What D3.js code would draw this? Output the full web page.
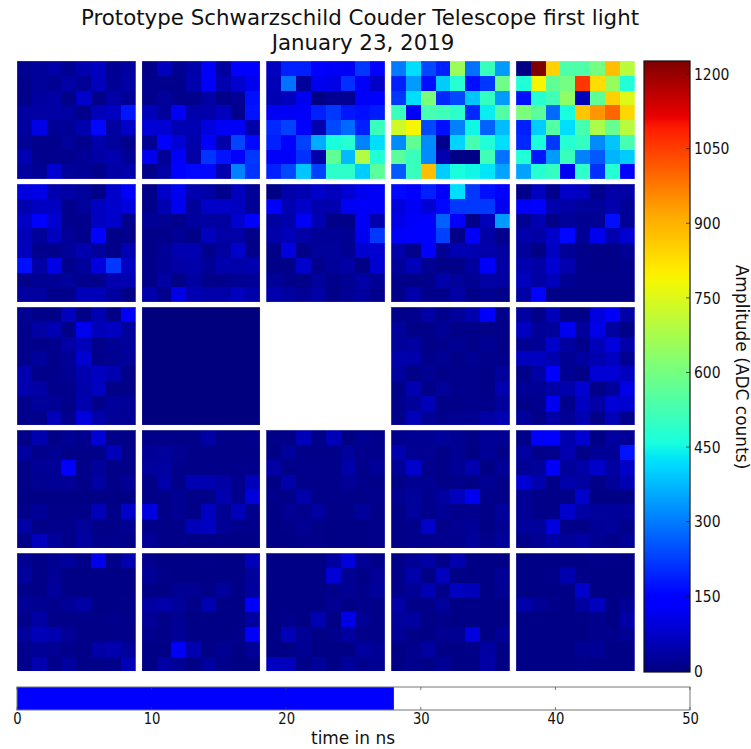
<!DOCTYPE html>
<html><head><meta charset="utf-8">
<style>html,body{margin:0;padding:0;background:#fff}svg{display:block}text{font-family:"DejaVu Sans",sans-serif;fill:#111}</style>
<script src="https://cdn.jsdelivr.net/npm/d3@7"></script></head><body>
<div id="chart"></div>
<script>
const titleLines=["Prototype Schwarzschild Couder Telescope first light","January 23, 2019"];
const colorbarLabel="Amplitude (ADC counts)";
const timeLabel="time in ns";
const colorbarTicks=[0,150,300,450,600,750,900,1050,1200];
const timeTicks=[0,10,20,30,40,50];
const amplitudeMax=1226;
const timeValue=28;
const timeMax=50;
const m00=[[20,30,40,20,50,70,20,35],[15,30,20,40,25,65,25,40],[10,35,40,10,80,10,40,25],[35,40,40,35,15,60,70,180],[35,110,25,25,50,160,35,75],[25,15,15,30,15,45,30,15],[55,15,15,15,25,40,50,25],[35,25,85,30,25,12,40,45]];
const m01=[[10,65,20,45,130,35,150,135],[15,15,15,50,130,50,85,120],[15,30,15,15,40,15,25,170],[60,30,125,45,45,65,15,175],[90,90,55,55,100,125,125,45],[20,145,90,45,130,45,235,160],[115,25,130,40,215,175,150,220],[15,40,140,160,160,50,310,215]];
const m02=[[70,190,190,150,125,125,220,150],[60,290,30,120,110,210,130,75],[55,65,120,5,20,20,130,135],[125,125,130,190,220,180,170,185],[200,230,140,50,240,280,190,510],[190,150,230,360,460,480,310,420],[125,130,210,45,570,380,690,470],[190,240,390,230,490,490,400,560]];
const m03=[[300,420,240,190,660,290,510,340],[190,340,170,400,480,170,220,590],[220,420,610,200,240,390,500,340],[510,130,530,520,490,200,440,550],[730,790,240,170,310,450,270,380],[320,570,320,15,410,530,470,420],[560,510,320,50,5,5,520,290],[260,510,880,400,460,450,430,350]];
const m04=[[5,1226,850,540,540,600,880,700],[470,790,570,600,1060,830,650,470],[170,480,520,640,60,570,850,750],[610,560,280,460,870,940,1000,840],[190,400,550,420,530,680,580,700],[200,460,220,480,500,320,390,530],[470,180,340,510,310,260,370,400],[350,480,500,120,490,210,480,150]];
const m10=[[100,110,50,40,30,10,80,130],[50,70,70,15,30,70,80,100],[75,135,85,15,15,70,80,15],[60,30,65,25,15,155,10,15],[65,15,15,30,50,30,10,55],[170,40,110,15,30,100,220,70],[15,20,25,30,15,15,50,55],[35,35,15,15,60,60,35,10]];
const m11=[[10,80,120,50,40,15,65,25],[10,55,120,30,75,75,70,25],[25,20,15,35,35,35,85,150],[10,15,25,10,65,40,40,10],[10,25,50,55,15,35,80,10],[15,25,40,45,25,50,45,50],[10,40,10,35,15,15,20,25],[45,15,110,55,45,45,65,45]];
const m12=[[5,45,55,80,65,90,120,125],[150,55,80,50,50,125,130,130],[35,45,125,55,10,10,125,50],[45,60,40,25,25,20,120,220],[10,100,10,30,30,20,85,85],[10,10,80,15,30,40,5,85],[30,15,10,30,15,20,40,25],[50,35,25,40,10,25,35,15]];
const m13=[[160,135,190,130,420,220,170,140],[100,125,90,160,220,220,220,120],[110,130,135,270,130,10,60,340],[130,150,135,230,10,130,40,15],[45,15,140,25,55,55,45,35],[30,60,20,10,10,35,130,40],[15,10,10,45,30,20,40,35],[10,45,15,15,40,10,20,10]];
const m14=[[15,70,15,75,70,15,40,40],[130,150,50,40,30,30,50,25],[20,55,10,30,20,20,170,25],[45,40,80,160,25,120,50,85],[30,5,70,25,10,10,10,25],[50,40,85,50,15,10,10,15],[65,40,60,20,15,15,15,15],[40,155,10,10,10,10,10,10]];
const m20=[[20,10,10,65,10,55,10,130],[15,40,55,10,120,60,70,30],[15,15,15,40,60,15,20,30],[15,30,15,25,85,15,20,30],[50,15,15,20,50,70,50,10],[50,40,15,15,45,70,10,10],[15,30,25,10,50,15,30,25],[15,15,60,15,100,45,25,25]];
const m21=[[0,0,0,0,0,0,0,0],[0,0,0,0,0,0,0,0],[0,0,0,0,0,0,0,0],[0,0,0,0,0,0,0,0],[0,0,0,0,0,0,0,0],[0,0,0,0,0,0,0,0],[0,0,0,0,0,0,0,0],[0,0,0,0,0,0,0,0]];
const m22=null;
const m23=[[10,15,40,15,30,50,130,15],[30,10,10,25,10,10,10,10],[30,35,10,15,20,10,20,10],[45,45,15,20,10,20,15,10],[35,10,20,10,15,15,10,30],[10,50,10,30,15,15,10,50],[15,30,60,10,10,15,15,30],[10,60,25,15,20,20,40,55]];
const m24=[[35,10,60,10,10,100,130,40],[70,25,30,120,30,110,35,10],[20,25,80,35,15,60,100,45],[70,70,50,20,35,50,70,20],[10,40,150,20,10,90,90,65],[25,25,40,50,85,10,30,110],[10,15,120,15,70,40,90,85],[30,10,40,25,55,10,60,15]];
const m30=[[10,50,10,20,15,90,10,10],[35,15,20,10,10,10,60,10],[10,25,25,130,10,30,10,10],[10,20,25,25,10,40,10,25],[8,8,8,8,8,8,8,8],[10,25,10,10,10,60,10,75],[40,10,15,15,30,10,10,20],[10,65,30,10,35,15,15,10]];
const m31=[[10,10,10,10,40,10,10,15],[25,30,20,10,10,10,10,10],[30,35,15,10,10,10,15,15],[10,45,10,55,55,40,15,60],[10,10,20,10,10,50,15,95],[100,10,20,10,70,20,60,15],[10,10,10,60,70,25,15,15],[25,10,10,8,8,8,8,8]];
const m32=[[10,10,60,10,60,8,20,15],[8,30,10,10,10,30,15,15],[40,10,15,15,12,45,12,25],[8,45,12,12,12,25,15,10],[12,10,45,12,12,12,10,15],[8,20,15,35,10,10,30,10],[8,10,20,10,8,8,8,12],[8,8,12,12,8,8,8,12]];
const m33=[[15,20,20,30,20,10,25,20],[50,20,20,10,20,8,25,10],[25,80,15,10,25,50,8,25],[10,20,20,10,15,8,20,10],[20,30,15,35,65,120,15,10],[10,30,15,25,15,15,10,30],[10,15,80,10,20,25,8,20],[10,15,15,15,15,30,15,30]];
const m34=[[10,130,140,50,85,8,35,25],[35,10,15,50,10,25,25,175],[25,30,130,30,40,80,35,75],[90,50,10,45,35,10,30,55],[25,10,10,10,80,8,8,8],[25,10,10,80,40,30,30,30],[30,30,100,10,10,25,30,12],[10,20,40,30,40,20,12,25]];
const m40=[[20,10,20,30,10,115,10,50],[30,10,25,8,8,8,8,8],[12,10,30,8,8,8,8,8],[25,20,15,25,40,8,8,10],[12,40,10,10,10,10,15,10],[30,60,55,25,10,10,10,12],[15,25,20,15,10,40,50,30],[15,50,15,35,10,10,12,60]];
const m41=[[15,8,8,8,10,8,8,60],[25,10,8,8,8,8,8,30],[8,8,20,20,10,30,8,35],[35,45,30,10,55,8,8,130],[25,10,20,8,8,8,8,35],[15,10,25,8,8,8,12,130],[8,8,130,50,8,20,8,25],[8,40,20,8,35,12,8,8]];
const m42=[[8,8,8,8,35,100,25,12],[8,8,8,8,90,20,8,25],[8,8,8,8,12,20,15,30],[8,8,8,8,20,8,15,10],[8,15,8,55,8,110,25,12],[8,60,25,8,15,35,10,12],[8,8,20,8,8,8,35,25],[70,65,10,30,8,30,15,20]];
const m43=[[10,25,40,10,50,8,8,8],[12,45,8,65,8,8,8,25],[15,25,55,10,70,60,8,20],[40,10,10,30,8,8,8,8],[30,35,8,12,8,8,8,8],[25,10,8,20,20,100,8,25],[8,15,35,8,8,10,35,8],[8,15,8,25,8,8,40,8]];
const m44=[[8,8,8,8,8,12,12,8],[8,8,15,50,10,8,8,8],[8,8,8,8,80,8,8,8],[45,25,12,8,35,65,8,25],[8,8,8,8,8,15,8,40],[8,8,8,8,8,15,12,20],[8,8,8,8,20,25,8,8],[8,8,8,8,12,8,8,8]];
const moduleGrid=[[m00,m01,m02,m03,m04],[m10,m11,m12,m13,m14],[m20,m21,m22,m23,m24],[m30,m31,m32,m33,m34],[m40,m41,m42,m43,m44]];
const jetStops=[[0,"#00007f"],[0.11,"#0000ff"],[0.125,"#0000ff"],[0.34,"#00dbff"],[0.35,"#00e5f7"],[0.375,"#19ffde"],[0.5,"#7cff79"],[0.64,"#f4f802"],[0.66,"#ffea00"],[0.75,"#ffa700"],[0.89,"#ff1c00"],[0.91,"#e80000"],[1,"#7f0000"]];

const W=751,H=749;
const svg=d3.select("#chart").append("svg").attr("width",W).attr("height",H);
const outerX=d3.scaleBand().domain(d3.range(5)).range([17,634.5]).paddingInner(0.05);
const outerY=d3.scaleBand().domain(d3.range(5)).range([61,671.5]).paddingInner(0.04);
const innerX=d3.scaleBand().domain(d3.range(8)).range([0,outerX.bandwidth()]);
const innerY=d3.scaleBand().domain(d3.range(8)).range([0,outerY.bandwidth()]);
const color=d3.scaleLinear().domain(jetStops.map(d=>d[0]*amplitudeMax)).range(jetStops.map(d=>d[1])).clamp(true);

moduleGrid.forEach((row,ri)=>row.forEach((mod,ci)=>{
  if(!mod) return;
  const g=svg.append("g").attr("transform",`translate(${outerX(ci)},${outerY(ri)})`);
  mod.forEach((vals,r)=>{
    g.selectAll(null).data(vals).join("rect")
      .attr("x",(d,c)=>innerX(c)).attr("y",innerY(r))
      .attr("width",innerX.bandwidth()).attr("height",innerY.bandwidth())
      .attr("shape-rendering","crispEdges")
      .attr("fill",d=>color(d));
  });
  g.append("rect").attr("width",outerX.bandwidth()).attr("height",outerY.bandwidth())
    .attr("fill","none").attr("stroke","#fff").attr("stroke-opacity",0.28).attr("stroke-width",1);
}));

svg.selectAll(".title").data(titleLines).join("text").attr("class","title")
  .attr("x",(d,i)=>i?363:360).attr("y",(d,i)=>25+i*25).attr("text-anchor","middle").attr("font-size",21.35).text(d=>d);

// colour bar
const barX=644,barW=46,barTop=61,barBottom=672;
const barY=d3.scaleLinear().domain([0,1200]).range([671,74]);
const defs=svg.append("defs");
const grad=defs.append("linearGradient").attr("id","jet").attr("x1",0).attr("x2",0).attr("y1",1).attr("y2",0);
grad.selectAll("stop").data(jetStops).join("stop").attr("offset",d=>d[0]).attr("stop-color",d=>d[1]);
svg.append("rect").attr("x",barX).attr("y",barTop).attr("width",barW).attr("height",barBottom-barTop)
  .attr("fill","url(#jet)").attr("stroke","#111").attr("stroke-width",1.2);
const barAxis=d3.axisRight(barY).tickValues(colorbarTicks).tickSize(0).tickPadding(0).tickFormat(d3.format("d"));
const ga=svg.append("g").attr("transform",`translate(${barX+barW},0)`).call(barAxis);
ga.select(".domain").remove();
ga.selectAll("text").attr("font-size",16).attr("font-family",'"DejaVu Sans"').attr("fill","#111")
  .attr("transform","translate(4,0) scale(0.87,1)");
svg.selectAll(".bt").data(colorbarTicks).join("line").attr("class","bt")
  .attr("x1",barX+barW-4).attr("x2",barX+barW).attr("y1",d=>barY(d)).attr("y2",d=>barY(d)).attr("stroke","#111").attr("stroke-width",0.7);
svg.append("text").attr("transform","translate(736,367) rotate(90)").attr("text-anchor","middle").attr("font-size",17).text(colorbarLabel);

// time bar
const tX=d3.scaleLinear().domain([0,timeMax]).range([17,690]);
const tTop=687,tBottom=710;
svg.append("rect").attr("x",tX(0)).attr("y",tTop).attr("width",tX(timeValue)-tX(0)).attr("height",tBottom-tTop).attr("fill","#0000ff");
svg.append("rect").attr("x",tX(0)).attr("y",tTop).attr("width",tX(timeMax)-tX(0)).attr("height",tBottom-tTop).attr("fill","none").attr("stroke","#777").attr("stroke-width",1);
const timeAxis=d3.axisBottom(tX).tickValues(timeTicks).tickSize(0).tickPadding(3).tickFormat(d3.format("d"));
const gt=svg.append("g").attr("transform",`translate(0,${tBottom})`).call(timeAxis);
gt.select(".domain").remove();
gt.selectAll("text").attr("font-size",15.5).attr("font-family",'"DejaVu Sans"').attr("fill","#111")
  .attr("transform","scale(0.85,1)");
svg.selectAll(".tt").data(timeTicks).join("line").attr("class","tt")
  .attr("x1",d=>tX(d)).attr("x2",d=>tX(d)).attr("y1",tBottom-3).attr("y2",tBottom).attr("stroke","#444").attr("stroke-width",0.7);
svg.selectAll(".tt2").data(timeTicks).join("line").attr("class","tt2")
  .attr("x1",d=>tX(d)).attr("x2",d=>tX(d)).attr("y1",tTop).attr("y2",tTop+3).attr("stroke","#444").attr("stroke-width",0.7);
svg.append("text").attr("x",353).attr("y",744).attr("text-anchor","middle").attr("font-size",17).attr("textLength",84).attr("lengthAdjust","spacingAndGlyphs").text(timeLabel);
</script></body></html>
